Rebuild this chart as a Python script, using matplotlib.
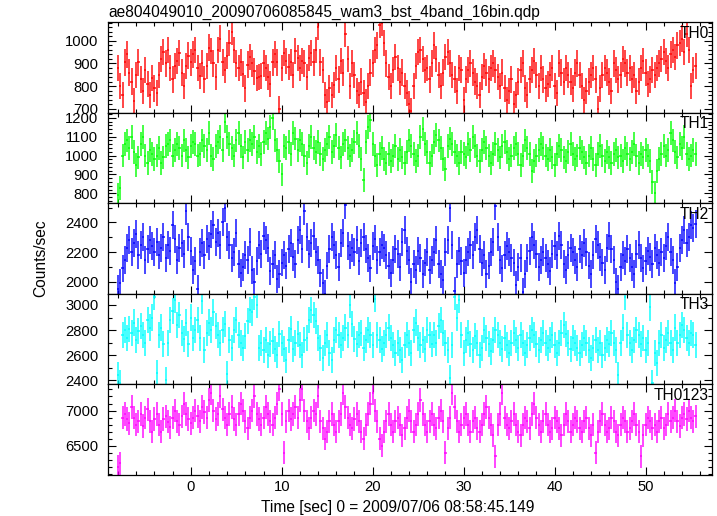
'''Re-draw of the WAM 4-band light curve (qdp plot) with matplotlib'''

import numpy as np
import matplotlib
matplotlib.use("Agg")
import matplotlib.pyplot as plt
from matplotlib.ticker import MultipleLocator

######################################
# DATA (0.25 s bins)
t_start = -8.0
t_bin = 0.25

th0 = [880, 800, 760, 905, 940, 860, 820, 735, 850, 905, 830, 780, 870, 810, 760, 835, 790,
       770, 850, 920, 950, 900, 960, 880, 830, 890, 910, 945, 860, 800, 890, 935, 905, 940,
       960, 880, 845, 900, 830, 890, 970, 955, 900, 840, 960, 1010, 905, 870, 935, 990, 1040,
       960, 900, 880, 905, 855, 790, 895, 930, 900, 865, 835, 840, 845, 900, 880, 840, 810,
       905, 940, 905, 700, 880, 945, 910, 885, 905, 850, 955, 925, 880, 910, 900, 840, 925,
       945, 905, 960, 1060, 905, 870, 760, 730, 790, 760, 805, 880, 830, 910, 860, 1030, 920,
       800, 900, 850, 780, 760, 820, 770, 730, 800, 860, 900, 960, 980, 1070, 1080, 990, 900,
       840, 800, 870, 930, 880, 820, 860, 800, 770, 720, 690, 800, 890, 950, 960, 920, 870,
       880, 830, 900, 980, 920, 850, 800, 860, 930, 950, 900, 850, 830, 780, 880, 870, 740,
       830, 870, 900, 860, 820, 800, 760, 840, 890, 860, 830, 880, 900, 870, 840, 800, 860,
       790, 740, 780, 830, 720, 760, 820, 870, 900, 790, 760, 830, 870, 910, 850, 800, 880,
       830, 790, 810, 850, 880, 800, 770, 900, 860, 820, 880, 850, 820, 790, 860, 900, 850,
       800, 740, 780, 820, 850, 880, 830, 700, 790, 850, 880, 860, 820, 780, 900, 870, 830,
       850, 920, 900, 860, 880, 830, 850, 780, 820, 880, 910, 860, 810, 830, 870, 850, 880,
       900, 920, 950, 910, 880, 940, 960, 930, 980, 990, 1010, 950, 1030, 960, 800, 870, 890]

th1 = [790, 830, 1000, 1060, 1080, 1040, 1100, 1020, 950, 990, 1060, 1100, 1000, 960, 1030, 1010, 980,
       1000, 1040, 960, 990, 1050, 1060, 1080, 1000, 1030, 1060, 1040, 1000, 1080, 1030, 990, 1050, 1070,
       1060, 1000, 1010, 1080, 1050, 1030, 1120, 1000, 980, 1050, 1070, 1100, 1030, 1180, 1100, 1060, 1040,
       1000, 1080, 1120, 1050, 990, 1070, 1030, 1080, 1060, 1100, 1020, 1050, 1010, 1070, 1120, 1090, 1150,
       1200, 1080, 1030, 970, 900, 1050, 1040, 1070, 1010, 1120, 1090, 1030, 1080, 1060, 1000, 960, 1050,
       1100, 1040, 1020, 1070, 1010, 980, 1030, 1060, 1100, 1020, 1050, 1110, 1040, 990, 1060, 1080, 1040,
       1000, 1030, 1070, 1120, 1050, 980, 870, 1070, 1150, 1190, 1060, 1000, 950, 1010, 1040, 980, 960,
       1010, 970, 1000, 1050, 980, 1030, 990, 960, 1020, 1080, 1050, 1010, 970, 1000, 1100, 1140, 1060,
       1020, 960, 1000, 1070, 1110, 1080, 1040, 980, 930, 1050, 1090, 1060, 1020, 1000, 960, 1020, 1010,
       990, 1060, 1030, 1100, 1050, 1000, 970, 1030, 1070, 1040, 1000, 960, 1010, 1060, 1030, 990, 1050,
       1070, 1020, 980, 1000, 1040, 1060, 1010, 950, 1000, 1080, 1040, 1010, 920, 970, 1000, 1030, 1060,
       1040, 1000, 980, 1030, 990, 950, 1010, 1050, 1030, 990, 970, 1020, 1060, 1010, 980, 1000, 1040,
       1020, 990, 960, 1000, 1040, 980, 950, 1010, 1050, 1000, 970, 1020, 990, 960, 1010, 1030, 990,
       1000, 970, 1040, 1010, 980, 1020, 1060, 1000, 960, 1010, 990, 1030, 1000, 970, 860, 800, 920,
       980, 1010, 1050, 1000, 1030, 1120, 1080, 1020, 990, 1060, 1040, 1100, 1010, 980, 1000, 1030, 1010]

th2 = [1950, 1990, 2090, 2150, 2230, 2280, 2200, 2260, 2320, 2180, 2250, 2300, 2150, 2220, 2280, 2240, 2200,
       2270, 2180, 2230, 2300, 2160, 2250, 2210, 2380, 2290, 2150, 2230, 2260, 2190, 2480, 2300, 2210, 2080,
       2140, 1950, 2200, 2260, 2180, 2290, 2240, 2320, 2380, 2270, 2330, 2250, 2400, 2500, 2300, 2250, 2160,
       2200, 2330, 2120, 2060, 2100, 2180, 2150, 2270, 2080, 2000, 2140, 2250, 2190, 2310, 2280, 2230, 2070,
       2120, 2180, 2020, 2050, 2130, 2180, 2110, 2220, 2260, 2170, 2120, 2280, 2350, 2220, 2480, 2300, 2190,
       2260, 2310, 2200, 2150, 2060, 1990, 1920, 2110, 2220, 2300, 2250, 2180, 2100, 2260, 2330, 2520, 2240,
       2180, 2230, 2200, 2280, 2140, 2260, 2300, 2220, 2160, 2090, 2240, 2290, 2150, 2200, 2250, 2230, 2180,
       2110, 2060, 2150, 2220, 2190, 2100, 2270, 2350, 2210, 2150, 2000, 2120, 2080, 2210, 2160, 2050, 2130,
       2200, 2080, 2150, 2200, 2280, 2120, 2050, 2010, 2200, 2280, 2500, 2250, 1940, 2120, 2210, 2140, 2060,
       2150, 2200, 2250, 2180, 2300, 2350, 2220, 2130, 2180, 2050, 2110, 2200, 2270, 2510, 2300, 2150, 2090,
       2180, 2240, 2200, 2160, 2130, 1980, 2100, 2160, 1930, 2050, 2160, 2210, 2300, 2250, 2190, 2100, 2150,
       2200, 2160, 2120, 2070, 2190, 2240, 2180, 2310, 2250, 2120, 2080, 2180, 2230, 2200, 2150, 2100, 2220,
       2180, 2260, 2200, 2110, 2050, 2180, 2290, 2250, 2170, 2130, 2080, 2230, 2310, 2220, 2150, 2000, 1950,
       2100, 2180, 2140, 2220, 2160, 2100, 2050, 2190, 2250, 2160, 2090, 2140, 2210, 2170, 2120, 2230, 2180,
       2130, 2200, 2160, 2240, 2300, 2200, 2150, 1990, 2100, 2230, 2280, 2350, 2260, 2300, 2380, 2360, 2390]

th3 = [2440, 2380, 2760, 2800, 2740, 2810, 2780, 2860, 2720, 2790, 2830, 2760, 2700, 2880, 2820, 2900, 3060,
       2460, 2760, 2820, 2690, 2400, 2700, 2880, 2950, 3040, 2840, 2920, 2780, 2730, 2860, 2690, 2900, 2740,
       2800, 2880, 2740, 3030, 2640, 2780, 2860, 2800, 2940, 2830, 2760, 2700, 2800, 2850, 2450, 2720, 2660,
       2800, 2880, 2760, 2700, 2660, 2750, 2870, 2960, 2940, 3060, 3000, 2660, 2700, 2640, 2720, 2600, 2690,
       2710, 2650, 2600, 2770, 2700, 2650, 2560, 2720, 2810, 2650, 2700, 2770, 2680, 2600, 2720, 2740, 2880,
       2960, 2920, 2870, 2740, 2660, 2580, 2700, 2760, 2620, 2560, 2720, 2800, 2760, 2680, 2740, 2820, 2760,
       3000, 2850, 2730, 2690, 2760, 2780, 2660, 2720, 2800, 2760, 2680, 3050, 2760, 2720, 2650, 2700, 2760,
       2820, 2740, 2680, 2620, 2700, 2640, 2560, 2680, 2760, 2700, 2620, 2800, 2860, 2740, 2680, 2720, 2650,
       2800, 2760, 2690, 2760, 2700, 2830, 2880, 2780, 2700, 2640, 2420, 2680, 3060, 2900, 3040, 2760, 2620,
       2720, 2780, 2690, 2640, 2750, 2700, 2600, 2660, 2800, 2740, 2690, 2630, 2720, 2800, 2760, 2700, 2650,
       2740, 2680, 2620, 2700, 2780, 2720, 2660, 2760, 2700, 2620, 2680, 2740, 2800, 2760, 2690, 2640, 2720,
       2780, 2700, 2660, 2720, 2760, 2680, 2620, 2700, 2780, 2840, 2770, 2700, 2650, 2740, 2700, 2660, 2620,
       2680, 2740, 2700, 2640, 2580, 2660, 2720, 2640, 2700, 2600, 2660, 2720, 2690, 2780, 2700, 2640, 2440,
       2700, 2820, 3060, 2760, 2700, 2640, 2720, 2800, 2760, 2690, 2740, 2640, 2700, 2980, 2380, 2620, 2540,
       2700, 2760, 2660, 2720, 2780, 2700, 2640, 2820, 2700, 2760, 2840, 2800, 2740, 2700, 2780, 2760, 2680]

th0123 = [6200, 6250, 6900, 6950, 6880, 6820, 7050, 6900, 6800, 6850, 6950, 6780, 6900, 7020, 6850, 6700, 6880,
          6950, 6800, 6700, 6880, 6920, 6840, 6760, 6900, 7000, 6850, 6800, 6920, 7100, 6950, 6880, 6820, 6900,
          7000, 6920, 6850, 7050, 6980, 6900, 7150, 7250, 7000, 6880, 6950, 7200, 7020, 6900, 6800, 6950, 7050,
          6880, 6800, 6950, 7100, 7000, 6850, 6750, 6900, 7000, 7200, 6950, 6880, 6800, 6900, 7050, 6950, 6850,
          6800, 6900, 7100, 7300, 6950, 6400, 6850, 7000, 6880, 6950, 7050, 6900, 7150, 7300, 7000, 6850, 6750,
          6900, 7000, 6950, 7200, 6850, 6750, 6600, 6700, 6850, 6950, 6800, 6700, 6850, 6950, 7250, 7050, 6900,
          6800, 6750, 6880, 6950, 6850, 6700, 6600, 6800, 6950, 7100, 7250, 7000, 6850, 6600, 6500, 6700, 6850,
          6950, 6800, 6700, 6850, 6900, 6800, 6650, 6750, 6900, 7000, 6850, 6700, 6800, 6950, 7150, 6950, 6800,
          6700, 6850, 6950, 6800, 6750, 6900, 7000, 6850, 6400, 6750, 6900, 7250, 7050, 6850, 6700, 6800, 6900,
          6950, 6800, 6700, 6850, 6900, 6750, 6700, 6800, 6950, 7050, 6900, 6800, 6650, 6350, 6800, 6950, 7250,
          6900, 6800, 6750, 6850, 6950, 6800, 6700, 6650, 6800, 6900, 6850, 6750, 6950, 7100, 6900, 6800, 6700,
          6850, 6950, 6800, 6700, 6750, 6900, 6850, 6750, 6650, 6800, 6950, 6850, 6700, 6800, 6900, 6850, 6750,
          6700, 6850, 6900, 6750, 6650, 6800, 6400, 6700, 6850, 6950, 6800, 6700, 6750, 6900, 6850, 6700, 6650,
          6800, 6900, 6850, 6700, 6750, 6850, 6950, 6800, 6700, 6350, 6650, 6800, 6900, 6850, 6750, 6800, 6700,
          6850, 6900, 6750, 6800, 6950, 6850, 6900, 7000, 6850, 6780, 6900, 6950, 6880, 7000, 6900, 6850, 6920]

# one error value per band (counts/sec)
errs = [58, 63, 94, 104, 165]

names = ["TH0", "TH1", "TH2", "TH3", "TH0123"]
series = [th0, th1, th2, th3, th0123]
colors = ["#ff0000", "#00ff00", "#0000ff", "#00ffff", "#ff00ff"]
ylims = [(683, 1082), (747, 1227), (1919, 2529), (2368, 3088), (6086, 7371)]
yticks = [[700, 800, 900, 1000], [800, 900, 1000, 1100, 1200], [2000, 2200, 2400],
          [2400, 2600, 2800, 3000], [6500, 7000]]
yminor = [20, 20, 100, 100, 100]
######################################

plt.rcParams['font.family'] = ['Liberation Sans', 'DejaVu Sans']
FS = 11.2


def main():
    fig, axes = plt.subplots(5, 1, figsize=(7.17, 5.16), dpi=100, sharex=True)
    fig.subplots_adjust(left=0.1506, right=0.993, top=0.957, bottom=0.0795, hspace=0)

    for i, ax in enumerate(axes):
        y = np.array(series[i], dtype=float)
        t = t_start + t_bin * np.arange(len(y))
        ax.errorbar(t, y, xerr=t_bin / 2, yerr=errs[i], fmt='none',
                    ecolor=colors[i], elinewidth=1.2, capsize=0, alpha=0.85)
        ax.set_ylim(*ylims[i])
        ax.set_yticks(yticks[i])
        ax.yaxis.set_minor_locator(MultipleLocator(yminor[i]))
        ax.set_xlim(-9.1, 57.3)
        ax.xaxis.set_major_locator(MultipleLocator(10))
        ax.xaxis.set_minor_locator(MultipleLocator(2))
        ax.tick_params(which='both', direction='in', top=True, right=True,
                       labelsize=10.6, width=0.8)
        ax.tick_params(axis='y', which='major', pad=7)
        ax.tick_params(which='major', length=6)
        ax.tick_params(which='minor', length=3)
        for sp in ax.spines.values():
            sp.set_linewidth(0.9)
        ax.text(0.995, 0.96, names[i], transform=ax.transAxes, ha='right', va='top',
                fontsize=FS)

    fig.text(0.151, 0.975, "ae804049010_20090706085845_wam3_bst_4band_16bin.qdp",
             fontsize=FS, ha='left', va='center')
    fig.text(0.057, 0.5, "Counts/sec", rotation=90, fontsize=FS, ha='center', va='center')
    fig.text(0.554, 0.016, "Time [sec] 0 = 2009/07/06 08:58:45.149", fontsize=FS,
             ha='center', va='center')

    fig.savefig("out.png", dpi=100)


if __name__ == "__main__":
    main()
